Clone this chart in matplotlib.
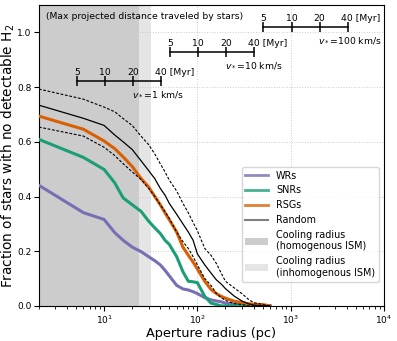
import numpy as np
import matplotlib
matplotlib.use("Agg")
import matplotlib.pyplot as plt
from matplotlib.lines import Line2D
from matplotlib.patches import Patch

# Aperture radius grid (pc)
radius = [2, 6, 10, 13, 16, 20, 25, 30, 35, 40, 45, 50, 60, 70, 80, 90, 100,
          120, 140, 160, 180, 200, 250, 300, 350, 400, 500, 600]

wrs = [0.441, 0.341, 0.316, 0.268, 0.240, 0.215, 0.198, 0.180, 0.165, 0.150, 0.130, 0.110,
       0.075, 0.062, 0.058, 0.052, 0.045, 0.030, 0.022, 0.018, 0.015, 0.010, 0.007, 0.005,
       0.0, 0.0, 0.0, 0.0]
snrs = [0.609, 0.543, 0.499, 0.450, 0.395, 0.370, 0.345, 0.310, 0.285, 0.265, 0.240, 0.225,
        0.180, 0.125, 0.090, 0.088, 0.085, 0.035, 0.010, 0.005, 0.0, 0.0, 0.0, 0.0,
        0.0, 0.0, 0.0, 0.0]
rsgs = [0.694, 0.646, 0.603, 0.575, 0.545, 0.510, 0.465, 0.435, 0.400, 0.370, 0.340, 0.315,
        0.270, 0.215, 0.185, 0.160, 0.135, 0.090, 0.060, 0.045, 0.035, 0.028, 0.017, 0.012,
        0.008, 0.006, 0.005, 0.0]
rand_mean = [0.734, 0.686, 0.660, 0.625, 0.600, 0.572, 0.530, 0.495, 0.465, 0.430, 0.405, 0.375,
             0.335, 0.300, 0.270, 0.240, 0.190, 0.150, 0.120, 0.095, 0.080, 0.063, 0.035, 0.018,
             0.008, 0.003, 0.0, 0.0]
rand_hi = [0.793, 0.756, 0.727, 0.710, 0.685, 0.660, 0.620, 0.590, 0.555, 0.520, 0.490, 0.460,
           0.420, 0.375, 0.340, 0.305, 0.275, 0.210, 0.185, 0.155, 0.120, 0.090, 0.065, 0.045,
           0.025, 0.012, 0.005, 0.0]
rand_lo = [0.654, 0.621, 0.580, 0.550, 0.520, 0.490, 0.462, 0.430, 0.400, 0.370, 0.345, 0.320,
           0.270, 0.235, 0.210, 0.180, 0.150, 0.100, 0.075, 0.045, 0.030, 0.020, 0.008, 0.005,
           0.0, 0.0, 0.0, 0.0]

cool_homog = 23.7
cool_inhomog = 31.8

velocities = [1, 10, 100]          # km/s
times = [5, 10, 20, 40]            # Myr
bar_levels = [0.823, 0.928, 1.021]
PC_PER_MYR = 1.0227                # 1 km/s in pc/Myr

fig = plt.figure(figsize=(3.97, 3.41), dpi=100)
ax = fig.add_axes([0.098, 0.103, 0.869, 0.882])

ax.axvspan(1, cool_homog, color='gray', alpha=0.4, lw=0, zorder=0)
ax.axvspan(cool_homog, cool_inhomog, color='gray', alpha=0.2, lw=0, zorder=0)

ax.plot(radius, wrs, color='#7570b3', lw=2.2, zorder=3)
ax.plot(radius, snrs, color='#1b9e77', lw=2.2, zorder=3)
ax.plot(radius, rsgs, color='#d95f02', lw=2.2, zorder=3)
ax.plot(radius, rand_mean, color='k', lw=0.9, zorder=4)
ax.plot(radius, rand_hi, color='k', lw=0.8, ls='--', dashes=(2.5, 1.5), zorder=4)
ax.plot(radius, rand_lo, color='k', lw=0.8, ls='--', dashes=(2.5, 1.5), zorder=4)

ax.set_xscale('log')
ax.set_xlim(2, 1e4)
ax.set_ylim(0, 1.1)
ax.set_yticks([0.0, 0.2, 0.4, 0.6, 0.8, 1.0])
ax.grid(True, which='major', color='#cccccc', ls=':', lw=0.7)
ax.tick_params(labelsize=6.5, pad=2)

ax.set_xlabel('Aperture radius (pc)', fontsize=9.3, labelpad=1)
ax.set_ylabel('Fraction of stars with no detectable H$_2$', fontsize=9.8)
ax.yaxis.set_label_coords(-0.064, 0.5)

ax.text(0.02, 0.963, '(Max projected distance traveled by stars)', transform=ax.transAxes,
        fontsize=6.7, va='center', ha='left')

for v, yb in zip(velocities, bar_levels):
    d = [v * t * PC_PER_MYR for t in times]
    ax.plot(d, [yb] * len(d), color='k', lw=1.1, marker='|', ms=7, mew=1.1, zorder=5)
    for t, dx in zip(times, d):
        if t == times[-1]:
            ax.annotate(f'{t} [Myr]', (dx, yb), xytext=(-4.5, 3), textcoords='offset points',
                        ha='left', va='bottom', fontsize=6.7)
        else:
            ax.annotate(f'{t}', (dx, yb), xytext=(0, 3), textcoords='offset points',
                        ha='center', va='bottom', fontsize=6.7)
    ax.annotate(f'$v_*$={v} km/s', (d[2], yb), xytext=(-1, -6), textcoords='offset points',
                ha='left', va='top', fontsize=6.7)

handles = [
    Line2D([], [], color='#7570b3', lw=2, alpha=0.8),
    Line2D([], [], color='#1b9e77', lw=2, alpha=0.8),
    Line2D([], [], color='#d95f02', lw=2, alpha=0.8),
    Line2D([], [], color='k', lw=1.5, alpha=0.5),
    Patch(facecolor='gray', alpha=0.4, lw=0),
    Patch(facecolor='gray', alpha=0.2, lw=0),
]
labels = ['WRs', 'SNRs', 'RSGs', 'Random', 'Cooling radius\n(homogenous ISM)',
          'Cooling radius\n(inhomogenous ISM)']
ax.legend(handles, labels, loc='lower right', bbox_to_anchor=(1.0, 0.065), fontsize=6.9,
          handlelength=2.4, labelspacing=0.5, borderpad=0.4, framealpha=0.8)

fig.savefig('out.png', dpi=100)
